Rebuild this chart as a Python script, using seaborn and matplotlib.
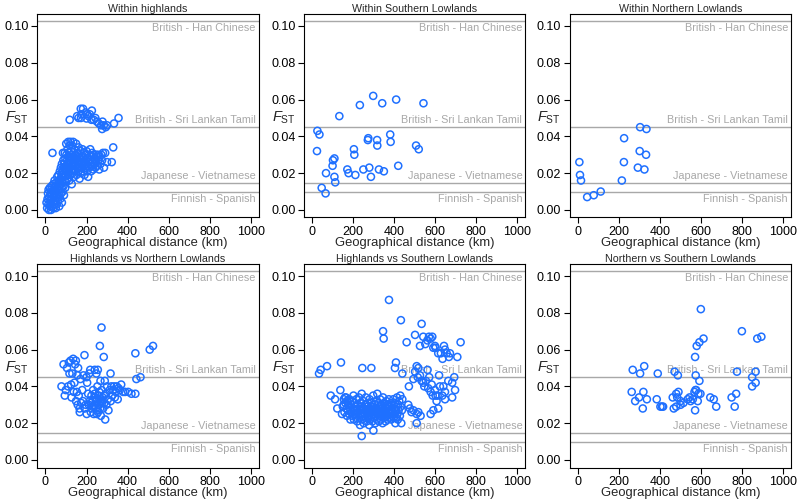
import numpy as np
import pandas as pd
import matplotlib
matplotlib.use("Agg")
import matplotlib.pyplot as plt
import seaborn as sns

# reference population pairs (Fst) drawn as horizontal lines
ref_labels = ["British - Han Chinese", "British - Sri Lankan Tamil",
              "Japanese - Vietnamese", "Finnish - Spanish"]
ref_fst = [0.1025, 0.045, 0.0145, 0.0098]
ref_above = [False, True, True, False]

titles = ["Within highlands", "Within Southern Lowlands", "Within Northern Lowlands",
          "Highlands vs Northern Lowlands", "Highlands vs Southern Lowlands",
          "Northern vs Southern Lowlands"]

# (distance km, Fst)
within_highlands = [
    (118, 0.049), (154, 0.051), (161, 0.050), (172, 0.055), (183, 0.055), (175, 0.052),
    (196, 0.053), (203, 0.052), (209, 0.051), (226, 0.054), (216, 0.052), (235, 0.049),
    (243, 0.050), (251, 0.048), (260, 0.047), (271, 0.046), (278, 0.048), (284, 0.046),
    (276, 0.044), (294, 0.045), (300, 0.046), (334, 0.047), (356, 0.050), (200, 0.0497),
    (224, 0.049), (173, 0.050),
    (5, 0.004), (8, 0.001), (10, 0.006), (12, 0.009), (14, 0.003), (15, 0.011), (17, 0.000),
    (18, 0.007), (20, 0.005), (21, 0.012), (22, 0.002), (24, 0.009), (25, 0.004), (27, 0.000),
    (28, 0.011), (30, 0.006), (30, 0.013), (32, 0.002), (33, 0.008), (35, 0.010), (36, 0.004),
    (38, 0.014), (38, 0.001), (40, 0.007), (41, 0.011), (43, 0.003), (44, 0.016), (45, 0.009),
    (47, 0.005), (48, 0.013), (50, 0.001), (50, 0.010), (52, 0.007), (53, 0.015), (55, 0.003),
    (56, 0.012), (57, 0.018), (58, 0.008), (60, 0.005), (61, 0.014), (62, 0.011), (63, 0.019),
    (65, 0.007), (66, 0.016), (67, 0.002), (68, 0.013), (70, 0.010), (70, 0.021), (72, 0.006),
    (73, 0.017), (74, 0.014), (75, 0.023), (76, 0.009), (78, 0.019), (79, 0.012), (80, 0.004),
    (80, 0.025), (82, 0.016), (83, 0.021), (84, 0.010), (85, 0.031), (86, 0.018), (87, 0.027),
    (88, 0.013), (89, 0.023), (90, 0.008), (90, 0.020), (92, 0.025), (93, 0.016), (94, 0.031),
    (95, 0.022), (96, 0.012), (97, 0.028), (98, 0.019), (100, 0.024), (100, 0.015), (101, 0.036),
    (102, 0.030), (103, 0.021), (105, 0.027), (106, 0.017), (107, 0.033), (108, 0.023),
    (110, 0.019), (110, 0.029), (111, 0.037), (112, 0.025), (114, 0.021), (115, 0.031),
    (116, 0.016), (117, 0.027), (118, 0.035), (119, 0.023), (120, 0.029), (121, 0.019),
    (122, 0.037), (123, 0.025), (125, 0.032), (126, 0.022), (127, 0.028), (128, 0.014),
    (129, 0.035), (130, 0.024), (131, 0.030), (133, 0.020), (134, 0.026), (135, 0.037),
    (136, 0.022), (138, 0.029), (139, 0.018), (140, 0.025), (141, 0.033), (143, 0.027),
    (145, 0.021), (146, 0.030), (147, 0.024), (149, 0.036), (150, 0.028), (151, 0.019),
    (153, 0.026), (155, 0.023), (156, 0.031), (158, 0.027), (160, 0.021), (161, 0.034),
    (163, 0.025), (165, 0.029), (166, 0.017), (168, 0.023), (170, 0.027), (171, 0.032),
    (173, 0.020), (175, 0.025), (176, 0.029), (178, 0.023), (180, 0.033), (181, 0.026),
    (183, 0.021), (185, 0.028), (187, 0.024), (189, 0.031), (190, 0.019), (192, 0.026),
    (194, 0.030), (195, 0.023), (197, 0.027), (199, 0.025), (200, 0.032), (202, 0.021),
    (204, 0.028), (206, 0.024), (208, 0.018), (210, 0.026), (212, 0.030), (214, 0.023),
    (216, 0.027), (218, 0.033), (220, 0.025), (222, 0.021), (224, 0.029), (226, 0.024),
    (228, 0.031), (230, 0.027), (233, 0.022), (235, 0.030), (238, 0.025), (240, 0.028),
    (243, 0.023), (246, 0.030), (248, 0.026), (250, 0.029), (253, 0.024), (256, 0.030),
    (258, 0.027), (262, 0.022), (265, 0.029), (268, 0.025), (272, 0.030), (276, 0.027),
    (280, 0.031), (285, 0.023), (291, 0.031), (300, 0.026), (323, 0.026), (330, 0.034),
    (34, 0.031),
]

within_southern = [
    (24, 0.032), (26, 0.043), (36, 0.041), (47, 0.012), (66, 0.009), (68, 0.020), (100, 0.024),
    (102, 0.027), (109, 0.028), (109, 0.018), (113, 0.015), (133, 0.051), (172, 0.022),
    (178, 0.020), (204, 0.033), (206, 0.030), (211, 0.019), (233, 0.057), (250, 0.022),
    (272, 0.038), (274, 0.039), (279, 0.023), (287, 0.018), (298, 0.062), (317, 0.038),
    (318, 0.035), (326, 0.022), (342, 0.058), (350, 0.021), (381, 0.041), (383, 0.037),
    (410, 0.060), (420, 0.024), (507, 0.035), (520, 0.033), (543, 0.058),
]

within_northern = [
    (8, 0.026), (11, 0.019), (16, 0.016), (46, 0.007), (78, 0.008), (112, 0.010), (215, 0.016),
    (225, 0.026), (226, 0.039), (293, 0.023), (302, 0.032), (304, 0.045), (325, 0.022),
    (333, 0.030), (335, 0.044),
]

highlands_vs_northern = [
    (78, 0.040), (88, 0.052), (94, 0.035), (99, 0.038), (105, 0.050), (110, 0.040), (114, 0.053),
    (117, 0.047), (122, 0.054), (125, 0.041), (127, 0.034), (131, 0.047), (135, 0.055),
    (138, 0.037), (141, 0.042), (144, 0.052), (148, 0.054), (149, 0.032), (153, 0.037),
    (156, 0.046), (157, 0.030), (159, 0.050), (162, 0.035), (166, 0.028), (167, 0.026),
    (170, 0.044), (174, 0.031), (179, 0.038), (183, 0.032), (185, 0.046), (190, 0.057),
    (192, 0.028), (196, 0.030), (200, 0.045), (201, 0.025), (203, 0.042), (208, 0.036),
    (211, 0.030), (213, 0.047), (216, 0.032), (218, 0.049), (221, 0.026), (224, 0.035),
    (227, 0.028), (230, 0.032), (232, 0.038), (235, 0.025), (237, 0.030), (240, 0.049),
    (242, 0.034), (245, 0.028), (248, 0.047), (250, 0.032), (253, 0.040), (255, 0.049),
    (256, 0.026), (260, 0.035), (261, 0.030), (265, 0.062), (266, 0.028), (268, 0.043),
    (270, 0.024), (273, 0.072), (273, 0.032), (274, 0.038), (278, 0.034), (281, 0.028),
    (284, 0.056), (287, 0.031), (289, 0.043), (291, 0.022), (294, 0.036), (297, 0.030),
    (300, 0.040), (304, 0.033), (307, 0.027), (313, 0.038), (317, 0.047), (318, 0.032),
    (321, 0.040), (325, 0.035), (330, 0.038), (334, 0.040), (338, 0.034), (342, 0.037),
    (347, 0.040), (352, 0.033), (356, 0.039), (362, 0.038), (369, 0.041), (378, 0.037),
    (388, 0.037), (403, 0.037), (419, 0.036), (438, 0.036), (438, 0.058), (443, 0.044),
    (463, 0.045), (508, 0.060), (524, 0.062),
    (245, 0.033), (255, 0.027), (230, 0.029), (262, 0.037), (275, 0.031), (285, 0.035),
    (240, 0.036), (268, 0.033), (250, 0.025), (220, 0.031),
]

highlands_vs_southern = [
    (34, 0.047), (42, 0.049), (73, 0.051), (141, 0.053), (245, 0.050), (289, 0.050),
    (346, 0.070), (349, 0.066), (375, 0.087), (404, 0.050), (409, 0.053), (433, 0.076),
    (440, 0.047), (461, 0.064), (472, 0.040), (502, 0.068), (534, 0.074), (526, 0.062),
    (542, 0.067), (552, 0.063), (562, 0.065), (570, 0.067), (586, 0.067), (578, 0.066),
    (591, 0.061), (599, 0.062), (602, 0.061), (615, 0.058), (628, 0.058), (636, 0.055),
    (643, 0.062), (648, 0.060), (656, 0.058), (667, 0.056), (672, 0.058), (708, 0.056),
    (724, 0.064),
    (510, 0.051), (518, 0.050), (502, 0.048), (494, 0.044), (515, 0.045), (526, 0.046),
    (534, 0.043), (542, 0.042), (547, 0.040), (555, 0.043), (563, 0.049), (566, 0.039),
    (571, 0.045), (578, 0.037), (583, 0.041), (588, 0.035), (599, 0.038), (602, 0.035),
    (612, 0.035), (619, 0.046), (623, 0.040), (635, 0.035), (640, 0.040), (648, 0.037),
    (648, 0.033), (664, 0.043), (683, 0.042), (693, 0.045), (697, 0.038), (683, 0.034),
    (469, 0.030), (477, 0.028), (485, 0.026), (494, 0.027), (510, 0.025), (518, 0.026),
    (529, 0.024), (578, 0.025), (591, 0.027), (615, 0.028), (607, 0.032), (510, 0.020),
    (91, 0.035), (112, 0.033), (123, 0.028), (138, 0.038), (146, 0.025), (154, 0.030),
    (161, 0.034), (169, 0.032), (177, 0.030), (242, 0.013), (299, 0.016),
    (150, 0.029), (155, 0.033), (158, 0.026), (162, 0.031), (165, 0.034), (168, 0.028),
    (170, 0.024), (173, 0.032), (175, 0.027), (178, 0.030), (180, 0.025), (182, 0.033),
    (185, 0.028), (187, 0.022), (190, 0.030), (192, 0.026), (195, 0.032), (197, 0.024),
    (200, 0.028), (202, 0.035), (204, 0.022), (206, 0.027), (208, 0.031), (210, 0.025),
    (212, 0.029), (214, 0.023), (216, 0.033), (218, 0.027), (220, 0.021), (222, 0.030),
    (224, 0.025), (226, 0.028), (228, 0.034), (230, 0.023), (232, 0.027), (234, 0.019),
    (236, 0.031), (238, 0.025), (240, 0.029), (242, 0.036), (244, 0.022), (246, 0.027),
    (248, 0.024), (250, 0.032), (252, 0.020), (254, 0.028), (256, 0.025), (258, 0.030),
    (260, 0.023), (262, 0.034), (264, 0.027), (266, 0.021), (268, 0.029), (270, 0.025),
    (272, 0.031), (274, 0.023), (276, 0.027), (278, 0.019), (280, 0.033), (282, 0.026),
    (284, 0.022), (286, 0.029), (288, 0.024), (290, 0.031), (292, 0.027), (294, 0.021),
    (296, 0.025), (298, 0.035), (300, 0.028), (302, 0.023), (304, 0.030), (306, 0.026),
    (308, 0.020), (310, 0.032), (312, 0.024), (314, 0.028), (316, 0.022), (318, 0.036),
    (320, 0.027), (322, 0.025), (324, 0.031), (326, 0.021), (328, 0.029), (330, 0.024),
    (332, 0.033), (334, 0.026), (336, 0.022), (338, 0.030), (340, 0.025), (342, 0.028),
    (344, 0.020), (346, 0.034), (348, 0.027), (350, 0.023), (352, 0.031), (354, 0.025),
    (356, 0.029), (358, 0.021), (360, 0.027), (362, 0.032), (364, 0.024), (366, 0.028),
    (368, 0.022), (370, 0.030), (372, 0.026), (374, 0.033), (376, 0.023), (378, 0.027),
    (380, 0.029), (382, 0.025), (384, 0.031), (386, 0.022), (388, 0.027), (390, 0.024),
    (392, 0.030), (394, 0.026), (396, 0.033), (398, 0.023), (400, 0.028), (402, 0.025),
    (404, 0.031), (406, 0.020), (408, 0.027), (410, 0.023), (412, 0.029), (414, 0.034),
    (416, 0.025), (418, 0.022), (420, 0.030), (422, 0.027), (425, 0.032), (428, 0.024),
    (430, 0.035), (432, 0.029), (435, 0.020), (438, 0.027), (440, 0.033),
    (265, 0.030), (285, 0.027), (305, 0.025), (325, 0.028), (345, 0.026), (365, 0.030),
    (335, 0.028), (315, 0.026), (295, 0.029), (275, 0.024), (355, 0.027), (375, 0.025),
]

northern_vs_southern = [
    (263, 0.037), (268, 0.049), (280, 0.032), (299, 0.034), (304, 0.047), (317, 0.028),
    (320, 0.037), (324, 0.051), (337, 0.033), (385, 0.033), (390, 0.047), (403, 0.029),
    (411, 0.029), (416, 0.029), (463, 0.034), (468, 0.028), (472, 0.048), (480, 0.036),
    (485, 0.034), (480, 0.029), (488, 0.046), (491, 0.037), (501, 0.032), (501, 0.030),
    (515, 0.031), (536, 0.033), (545, 0.034), (550, 0.032), (561, 0.033), (569, 0.037),
    (574, 0.038), (577, 0.038), (572, 0.056), (575, 0.046), (572, 0.027), (580, 0.062),
    (585, 0.032), (588, 0.036), (593, 0.043), (593, 0.064), (600, 0.082), (613, 0.066),
    (646, 0.034), (663, 0.033), (675, 0.029), (750, 0.034), (765, 0.029), (772, 0.036),
    (776, 0.048), (800, 0.070), (850, 0.040), (850, 0.045), (867, 0.042), (867, 0.048),
    (875, 0.066), (895, 0.067), (598, 0.036),
]

panels = [within_highlands, within_southern, within_northern,
          highlands_vs_northern, highlands_vs_southern, northern_vs_southern]

sns.set_style("ticks")
plt.rcParams["font.family"] = ["Liberation Sans", "DejaVu Sans"]
plt.rcParams["mathtext.fontset"] = "custom"
plt.rcParams["mathtext.rm"] = "Liberation Sans"
plt.rcParams["mathtext.it"] = "Liberation Sans:italic"

fig = plt.figure(figsize=(8, 5.04), dpi=100)
lefts = [0.0466, 0.3798, 0.7119]
bottoms = [0.5685, 0.0724]
w, h = 0.277, 0.404

for i, pts in enumerate(panels):
    ax = fig.add_axes([lefts[i % 3], bottoms[i // 3], w, h])
    df = pd.DataFrame(pts, columns=["dist", "fst"])
    for val, lab, above in zip(ref_fst, ref_labels, ref_above):
        ax.axhline(val, color="#a8a8a8", lw=1.0, zorder=1)
        ax.text(1025, val + (0.0010 if above else -0.0010), lab, color="#a8a8a8",
                fontsize=7.8, ha="right", va="bottom" if above else "top", zorder=2)
    sns.scatterplot(data=df, x="dist", y="fst", ax=ax, marker="o", s=26,
                    facecolor="none", edgecolor="#1f70ff", linewidth=1.1, zorder=3)
    ax.set_xlim(-40, 1040)
    ax.set_ylim(-0.0041, 0.1066)
    ax.set_xticks([0, 200, 400, 600, 800, 1000])
    ax.set_yticks([0.0, 0.02, 0.04, 0.06, 0.08, 0.10])
    ax.set_yticklabels(["0.00", "0.02", "0.04", "0.06", "0.08", "0.10"])
    ax.tick_params(labelsize=9, length=4, width=0.8, pad=2, colors="black")
    for sp in ax.spines.values():
        sp.set_visible(True)
        sp.set_linewidth(0.8)
        sp.set_color("black")
    ax.set_xlabel("Geographical distance (km)", fontsize=9.4, labelpad=-0.5)
    ax.set_ylabel("")
    ax.set_title(titles[i], fontsize=7.7, pad=1.5)
    ax.text(-0.145, 0.49, r"$F_{\rm ST}$", transform=ax.transAxes, fontsize=10.5,
            ha="left", va="center")

fig.savefig("out.png", dpi=100)
